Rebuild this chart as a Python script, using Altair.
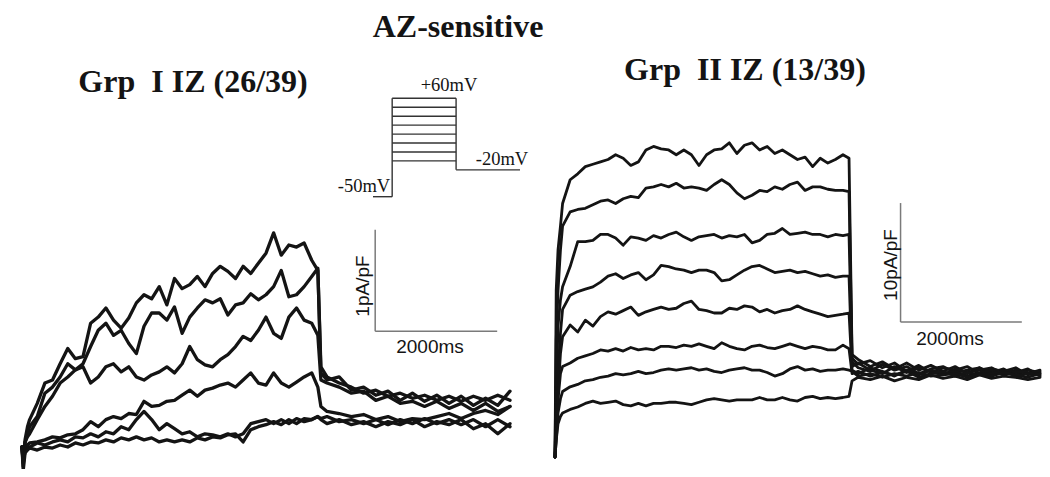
import altair as alt
import pandas as pd

# ---------------- time grids (ms) ----------------
T_STEP = [0, 20, 50, 90, 125, 250, 375, 500, 625, 750, 875, 1000, 1125, 1250, 1375,
          1500, 1625, 1750, 1875, 2000, 2125, 2250, 2375, 2500, 2625, 2750, 2875, 3000,
          3125, 3250, 3375, 3500, 3625, 3750, 3875, 4000, 4125, 4250, 4375, 4500, 4625,
          4750, 4850]
T_TAIL = [4900, 5000, 5200, 5400, 5600, 5800, 6000, 6200, 6400, 6600, 6800, 7000,
          7200, 7400, 7600, 7800, 8000]

# ---------------- Grp I IZ traces (pA/pF) ----------------
L1_STEP = [0.0, -0.19, 0.07, 0.20, 0.27, 0.43, 0.63, 0.66, 0.82, 0.97, 0.87, 0.89, 1.22, 1.28,
           1.37, 1.25, 1.17, 1.27, 1.42, 1.50, 1.46, 1.58, 1.40, 1.66, 1.56, 1.60, 1.68, 1.58,
           1.71, 1.78, 1.73, 1.66, 1.78, 1.71, 1.81, 1.91, 2.11, 1.89, 1.99, 1.97, 2.01, 1.84, 1.74]
L1_TAIL = [0.79, 0.69, 0.63, 0.59, 0.53, 0.56, 0.50, 0.53, 0.48, 0.51, 0.46, 0.50, 0.45, 0.50,
           0.46, 0.51, 0.46]
L2_STEP = [0.0, -0.13, 0.04, 0.13, 0.20, 0.30, 0.53, 0.59, 0.69, 0.82, 0.76, 0.82, 0.99, 1.15,
           1.22, 1.10, 1.15, 1.02, 0.92, 1.19, 1.32, 1.32, 1.25, 1.38, 1.12, 1.28, 1.37, 1.45,
           1.42, 1.46, 1.30, 1.40, 1.42, 1.51, 1.45, 1.50, 1.58, 1.74, 1.48, 1.50, 1.58, 1.68, 1.76]
L2_TAIL = [0.73, 0.66, 0.69, 0.56, 0.59, 0.51, 0.55, 0.46, 0.53, 0.45, 0.51, 0.43, 0.50, 0.41,
           0.48, 0.41, 0.55]
L3_STEP = [0.0, -0.06, 0.05, 0.10, 0.13, 0.27, 0.40, 0.50, 0.63, 0.69, 0.76, 0.79, 0.63, 0.69,
           0.79, 0.82, 0.74, 0.79, 0.69, 0.66, 0.71, 0.74, 0.79, 0.73, 0.82, 0.99, 0.86, 0.81,
           0.79, 0.86, 0.91, 0.99, 1.09, 1.05, 1.15, 1.28, 1.12, 1.07, 1.28, 1.37, 1.25, 1.22, 1.10]
L3_TAIL = [0.66, 0.63, 0.59, 0.53, 0.55, 0.46, 0.50, 0.43, 0.45, 0.40, 0.45, 0.38, 0.43, 0.36,
           0.43, 0.35, 0.40]
L4_STEP = [0.0, -0.16, -0.03, 0.02, 0.04, 0.05, 0.07, 0.10, 0.09, 0.12, 0.13, 0.17, 0.25, 0.20,
           0.27, 0.30, 0.28, 0.33, 0.32, 0.45, 0.40, 0.41, 0.45, 0.46, 0.51, 0.56, 0.50, 0.56,
           0.58, 0.61, 0.63, 0.59, 0.66, 0.73, 0.63, 0.61, 0.73, 0.63, 0.59, 0.64, 0.69, 0.73, 0.59]
L4_TAIL = [0.40, 0.35, 0.33, 0.30, 0.32, 0.27, 0.30, 0.25, 0.28, 0.27, 0.30, 0.33, 0.28, 0.33,
           0.36, 0.32, 0.40]
L5_STEP = [0.0, -0.13, -0.05, -0.01, 0.0, 0.04, 0.02, 0.05, 0.07, 0.05, 0.10, 0.09, 0.13, 0.10,
           0.15, 0.13, 0.20, 0.17, 0.27, 0.35, 0.27, 0.17, 0.23, 0.18, 0.13, 0.15, 0.10, 0.13,
           0.12, 0.10, 0.13, 0.10, 0.13, 0.23, 0.25, 0.27, 0.23, 0.27, 0.23, 0.28, 0.25, 0.27, 0.30]
L5_TAIL = [0.28, 0.30, 0.25, 0.27, 0.23, 0.27, 0.22, 0.27, 0.23, 0.28, 0.23, 0.27, 0.22, 0.27,
           0.20, 0.27, 0.20]
L6_STEP = [0.0, -0.23, -0.06, -0.03, -0.01, -0.03, 0.0, -0.01, 0.02, 0.0, 0.04, 0.02, 0.05, 0.04,
           0.07, 0.05, 0.09, 0.07, 0.10, 0.07, 0.09, 0.05, 0.07, 0.05, 0.07, 0.05, 0.09, 0.07,
           0.10, 0.09, 0.12, 0.13, 0.05, 0.17, 0.20, 0.22, 0.25, 0.22, 0.27, 0.23, 0.28, 0.27, 0.30]
L6_TAIL = [0.27, 0.23, 0.27, 0.22, 0.25, 0.20, 0.25, 0.22, 0.27, 0.20, 0.25, 0.22, 0.27, 0.18,
           0.23, 0.13, 0.23]

# ---------------- Grp II IZ traces (pA/pF) ----------------
R1_STEP = [0, 14.0, 17.4, 19.4, 21.3, 23.3, 23.8, 24.4, 24.6, 24.8, 25.0, 25.4, 25.1, 24.5, 24.8,
           25.8, 26.1, 25.9, 25.8, 25.4, 25.8, 25.4, 24.5, 25.4, 25.8, 25.9, 26.4, 25.5, 26.2,
           26.4, 25.8, 26.1, 25.5, 25.8, 25.4, 25.0, 25.2, 24.4, 25.1, 24.7, 25.0, 25.4, 25.1]
R2_STEP = [0, 9.8, 14.0, 17.4, 19.4, 20.6, 20.8, 20.9, 21.2, 21.5, 21.6, 21.3, 21.7, 21.9, 21.8,
           22.6, 22.7, 22.9, 22.7, 23.0, 22.6, 22.7, 22.6, 22.4, 22.9, 23.3, 22.9, 22.2, 21.7,
           22.0, 22.4, 22.3, 22.7, 22.5, 22.9, 23.1, 22.4, 22.7, 22.7, 22.5, 22.4, 22.4, 22.3]
R3_STEP = [0, 5.6, 11.0, 13.2, 14.3, 16.0, 18.1, 18.1, 18.2, 18.7, 18.7, 18.4, 17.8, 18.5, 18.4,
           18.2, 18.6, 18.4, 18.7, 18.9, 18.5, 18.2, 18.5, 18.6, 18.7, 18.4, 18.6, 18.5, 18.7,
           18.0, 18.2, 18.7, 18.8, 19.2, 18.7, 18.8, 18.9, 18.7, 18.7, 18.5, 18.7, 18.6, 18.7]
R4_STEP = [0, 4.2, 7.0, 10.4, 12.4, 13.6, 13.9, 14.1, 14.3, 14.7, 15.2, 15.4, 15.0, 15.3, 15.5,
           14.9, 15.3, 16.1, 16.0, 15.8, 15.7, 15.5, 15.7, 15.7, 15.5, 14.8, 14.9, 15.3, 15.7,
           16.0, 16.1, 15.8, 15.5, 15.6, 15.7, 15.5, 15.6, 15.4, 15.2, 15.3, 15.1, 15.2, 15.2]
R5_STEP = [0, 2.8, 5.4, 8.7, 10.1, 11.1, 10.5, 11.5, 11.0, 11.8, 12.2, 12.0, 12.3, 12.6, 11.9,
           12.2, 12.4, 12.6, 12.4, 12.5, 12.9, 13.1, 12.4, 12.3, 12.1, 12.1, 12.5, 12.4, 12.7,
           12.6, 12.2, 12.4, 12.1, 12.3, 12.4, 12.7, 12.4, 12.2, 12.0, 11.8, 11.9, 12.0, 12.1]
R6_STEP = [0, 2.0, 4.8, 7.0, 7.6, 7.9, 8.3, 8.5, 8.7, 9.0, 8.9, 9.1, 8.9, 9.2, 9.0, 9.1, 9.0,
           9.3, 9.3, 9.2, 9.4, 9.3, 9.5, 9.3, 9.1, 9.6, 9.3, 9.1, 9.0, 9.3, 9.4, 9.2, 9.1, 9.3,
           9.5, 9.3, 9.1, 9.3, 9.2, 9.0, 9.0, 9.4, 9.1]
R7_STEP = [0, 1.4, 3.7, 4.9, 5.5, 5.9, 6.1, 6.4, 6.5, 6.7, 6.8, 7.0, 6.9, 7.0, 7.2, 7.0, 7.1,
           7.3, 7.4, 7.3, 7.4, 7.5, 7.3, 7.4, 7.2, 7.1, 7.3, 7.4, 7.5, 7.3, 7.3, 7.1, 6.8, 7.0,
           7.4, 7.6, 7.3, 7.4, 7.2, 7.3, 7.3, 7.4, 7.3]
R8_STEP = [0, 1.4, 2.8, 3.4, 3.7, 4.0, 4.2, 4.5, 4.7, 4.5, 4.6, 4.7, 4.4, 4.3, 4.5, 4.3, 4.5,
           4.5, 4.6, 4.6, 4.5, 4.4, 4.6, 4.8, 4.9, 4.8, 4.7, 4.8, 4.8, 4.8, 5.0, 4.8, 4.8, 5.0,
           4.8, 4.7, 5.0, 5.1, 4.9, 5.0, 4.9, 5.0, 5.1]
R1_TAIL = [8.6, 8.2, 7.6, 8.0, 7.4, 7.9, 7.3, 7.7, 7.2, 7.6, 7.0, 7.5, 7.1, 7.4, 6.9, 7.3, 7.1]
R2_TAIL = [8.3, 7.8, 8.1, 7.5, 7.9, 7.2, 7.7, 7.1, 7.5, 7.3, 7.6, 7.0, 7.4, 7.2, 7.5, 6.9, 7.2]
R3_TAIL = [8.0, 7.5, 7.2, 7.8, 7.3, 7.6, 7.0, 7.4, 7.6, 7.1, 7.3, 7.5, 6.9, 7.3, 7.1, 7.4, 6.8]
R4_TAIL = [7.6, 7.9, 7.3, 7.0, 7.6, 7.1, 7.5, 7.2, 6.9, 7.4, 7.1, 7.3, 7.5, 7.0, 7.3, 7.0, 7.3]
R5_TAIL = [7.3, 7.0, 7.5, 7.2, 6.8, 7.3, 6.9, 7.3, 7.0, 7.2, 6.8, 7.1, 7.3, 6.9, 7.2, 7.1, 6.9]
R6_TAIL = [7.0, 7.2, 6.8, 7.1, 6.9, 7.2, 6.7, 7.0, 7.2, 6.8, 7.1, 6.9, 7.0, 7.2, 6.8, 7.0, 7.0]
R7_TAIL = [7.2, 6.8, 7.0, 6.7, 7.0, 6.8, 7.1, 6.8, 6.9, 7.0, 6.7, 7.0, 6.8, 7.1, 6.9, 6.7, 7.0]
R8_TAIL = [6.4, 6.7, 6.5, 6.8, 6.4, 6.7, 6.5, 6.9, 6.6, 6.8, 6.5, 6.9, 6.6, 6.8, 6.7, 6.5, 6.7]

# ---------------- voltage protocol (mV) ----------------
HOLD_MV = -50
STEP_MV = [-10, 0, 10, 20, 30, 40, 50, 60]
TAIL_MV = -20
PROTO_T = [-1500, 0, 5000, 10000]   # hold start, step start, step end, tail end

# ---------------- scale bars ----------------
BAR_MS = 2000
BAR_L_PAPF = 1
BAR_R_PAPF = 10

LEFT = [("L1", L1_STEP, L1_TAIL), ("L2", L2_STEP, L2_TAIL), ("L3", L3_STEP, L3_TAIL),
        ("L4", L4_STEP, L4_TAIL), ("L5", L5_STEP, L5_TAIL), ("L6", L6_STEP, L6_TAIL)]
RIGHT = [("R1", R1_STEP, R1_TAIL), ("R2", R2_STEP, R2_TAIL), ("R3", R3_STEP, R3_TAIL),
         ("R4", R4_STEP, R4_TAIL), ("R5", R5_STEP, R5_TAIL), ("R6", R6_STEP, R6_TAIL),
         ("R7", R7_STEP, R7_TAIL), ("R8", R8_STEP, R8_TAIL)]


def build(traces):
    rows = []
    for name, step, tail in traces:
        assert len(step) == len(T_STEP), name
        assert len(tail) == len(T_TAIL), name
        for t, v in zip(T_STEP + T_TAIL, step + tail):
            rows.append({"trace": name, "t": t, "v": v})
    return pd.DataFrame(rows)


left_df = build(LEFT)
right_df = build(RIGHT)

LX = alt.Scale(domain=[0, 8000], range=[14, 502], nice=False, zero=False)
LY = alt.Scale(domain=[0, 2], range=[439, 236], nice=False, zero=False)
RX = alt.Scale(domain=[0, 8000], range=[547, 1032], nice=False, zero=False)
RY = alt.Scale(domain=[0, 30], range=[449, 92], nice=False, zero=False)
PX = alt.Scale(domain=[-1500, 10000], range=[365, 512], nice=False, zero=False)
PY = alt.Scale(domain=[-50, 60], range=[188.7, 90.3], nice=False, zero=False)

INK = "#141414"


def traces_layer(df, xs, ys, width):
    return alt.Chart(df).mark_line(color=INK, strokeWidth=width, strokeJoin="round",
                                   strokeCap="round").encode(
        x=alt.X("t:Q", scale=xs, axis=None),
        y=alt.Y("v:Q", scale=ys, axis=None),
        detail="trace:N",
        order="t:Q",
    )


def segs_layer(df, xs, ys, color, width):
    return alt.Chart(df).mark_rule(color=color, strokeWidth=width).encode(
        x=alt.X("x:Q", scale=xs, axis=None),
        x2="x2:Q",
        y=alt.Y("y:Q", scale=ys, axis=None),
        y2="y2:Q",
    )


# scale bars (anchored in each panel's own data units)
LB_T, LB_V = 5790, 1.14
RB_T, RB_V = 5700, 11.34
left_bar = pd.DataFrame([
    {"x": LB_T, "x2": LB_T, "y": LB_V, "y2": LB_V + BAR_L_PAPF},
    {"x": LB_T, "x2": LB_T + BAR_MS, "y": LB_V, "y2": LB_V},
])
right_bar = pd.DataFrame([
    {"x": RB_T, "x2": RB_T, "y": RB_V, "y2": RB_V + BAR_R_PAPF},
    {"x": RB_T, "x2": RB_T + BAR_MS, "y": RB_V, "y2": RB_V},
])

# protocol segments
p0, p1, p2, p3 = PROTO_T
proto_rows = [
    {"x": p0, "x2": p1, "y": HOLD_MV, "y2": HOLD_MV},
    {"x": p1, "x2": p1, "y": HOLD_MV, "y2": max(STEP_MV)},
    {"x": p2, "x2": p2, "y": TAIL_MV, "y2": max(STEP_MV)},
    {"x": p2, "x2": p3, "y": TAIL_MV, "y2": TAIL_MV},
]
for mv in STEP_MV:
    proto_rows.append({"x": p1, "x2": p2, "y": mv, "y2": mv})
proto_df = pd.DataFrame(proto_rows)

one = pd.DataFrame({"k": [0]})


def label(text, x, y, size, font, weight="normal", angle=0, align="center", baseline="alphabetic"):
    kw = dict(text=text, fontSize=size, font=font, fontWeight=weight, color=INK,
              align=align, baseline=baseline)
    if angle:
        kw["angle"] = angle
    return alt.Chart(one).mark_text(**kw).encode(x=alt.value(x), y=alt.value(y))


SERIF = "Liberation Serif"
SANS = "Liberation Sans"
NB = "\u00a0"

layers = [
    traces_layer(left_df, LX, LY, 3.3),
    traces_layer(right_df, RX, RY, 2.8),
    segs_layer(left_bar, LX, LY, "#7a7a7a", 1.5),
    segs_layer(right_bar, RX, RY, "#7a7a7a", 1.5),
    segs_layer(proto_df, PX, PY, "#333333", 1.4),
    label("AZ-sensitive", 450, 29, 32, SERIF, "bold"),
    label("Grp" + NB + NB + "I IZ (26/39)", 185, 84, 32, SERIF, "bold"),
    label("Grp" + NB + NB + "II IZ (13/39)", 737, 72, 32, SERIF, "bold"),
    label("+60mV", 441, 83, 18.5, SERIF),
    label("-20mV", 494, 157, 18.5, SERIF),
    label("-50mV", 356, 184, 18.5, SERIF),
    label("1pA/pF", 361, 278, 19, SANS, angle=270),
    label("2000ms", 422, 345, 19, SANS),
    label("10pA/pF", 889, 257, 19, SANS, angle=270),
    label("2000ms", 942, 337, 19, SANS),
]

chart = alt.layer(*layers).resolve_scale(x="independent", y="independent").properties(
    width=1034, height=461, padding=0, background="white",
    autosize=alt.AutoSizeParams(type="none"),
).configure_view(stroke=None)

chart.save("out.html", embed_options={"renderer": "svg", "actions": False})
